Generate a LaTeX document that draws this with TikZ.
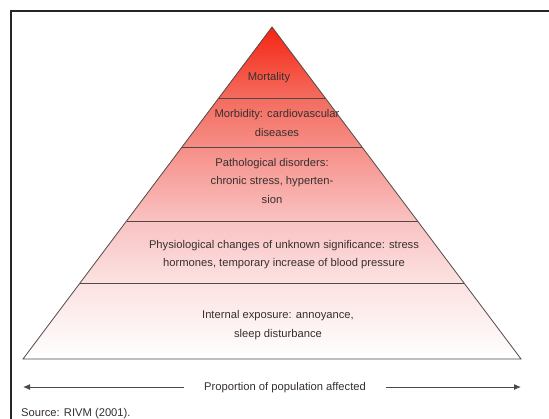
\documentclass[tikz,border=0pt]{standalone}
\usepackage{fontspec}
\setmainfont{Liberation Sans}
\usetikzlibrary{arrows.meta}
\definecolor{pA}{RGB}{246,36,18}
\definecolor{pB}{RGB}{244,108,95}
\definecolor{pC}{RGB}{249,194,194}
\definecolor{pD}{RGB}{252,226,226}
\definecolor{txt}{RGB}{55,48,48}
\definecolor{ln}{RGB}{80,72,72}
\pgfdeclareverticalshading{pyrshade}{100bp}{color(0bp)=(white); color(25bp)=(white); color(36.4bp)=(pD); color(45.8bp)=(pC); color(64.3bp)=(pB); color(75bp)=(pA); color(100bp)=(pA)}
\tikzset{
  lbl/.style={text=txt, align=center, inner sep=0pt, font=\fontsize{11.2}{18.5}\selectfont},
  edge/.style={draw=ln, line width=0.8pt},
  arr/.style={draw=ln, line width=1pt, -{Latex[length=7pt,width=6pt]}}
}
\begin{document}
\begin{tikzpicture}[x=1pt,y=-1pt]
\useasboundingbox (0,0) rectangle (549,418);
\fill[white] (0,0) rectangle (549,418);
% frame
\draw[line width=2pt, black!85] (11,425) -- (11,11) -- (560,11);
% pyramid
\coordinate (apex) at (272,27);
\coordinate (bl) at (23,359);
\coordinate (br) at (521,359);
\shade[shading=pyrshade] (apex) -- (br) -- (bl) -- cycle;
\draw[edge] (apex) -- (br) -- (bl) -- cycle;
\coordinate (l1a) at (218.75,98); \coordinate (l1b) at (325.25,98);
\coordinate (l2a) at (182,147); \coordinate (l2b) at (362,147);
\coordinate (l3a) at (126.5,221); \coordinate (l3b) at (417.5,221);
\coordinate (l4a) at (80,283); \coordinate (l4b) at (464,283);
\draw[edge] (l1a) -- (l1b);
\draw[edge] (l2a) -- (l2b);
\draw[edge] (l3a) -- (l3b);
\draw[edge] (l4a) -- (l4b);
% labels
\node[lbl] (mort) at (269,78) {Mortality};
\node[lbl] (morb) at (277,123) {Morbidity: cardiovascular\\diseases};
\node[lbl] (path) at (272,180.5) {Pathological disorders:\\chronic stress, hyperten-\\sion};
\node[lbl] (phys) at (284,254.5) {Physiological changes of unknown significance: stress\\hormones, temporary increase of blood pressure};
\node[lbl] (inte) at (278,325) {Internal exposure: annoyance,\\sleep disturbance};
% axis
\node[lbl, inner xsep=20pt] (prop) at (285,388) {Proportion of population affected};
\coordinate (la) at (23,387);
\coordinate (ra) at (521,387);
\draw[arr] (prop.west |- la) -- (la);
\draw[arr] (prop.east |- ra) -- (ra);
\node[lbl, anchor=west] (src) at (21,414) {Source: RIVM (2001).};
\end{tikzpicture}
\end{document}
